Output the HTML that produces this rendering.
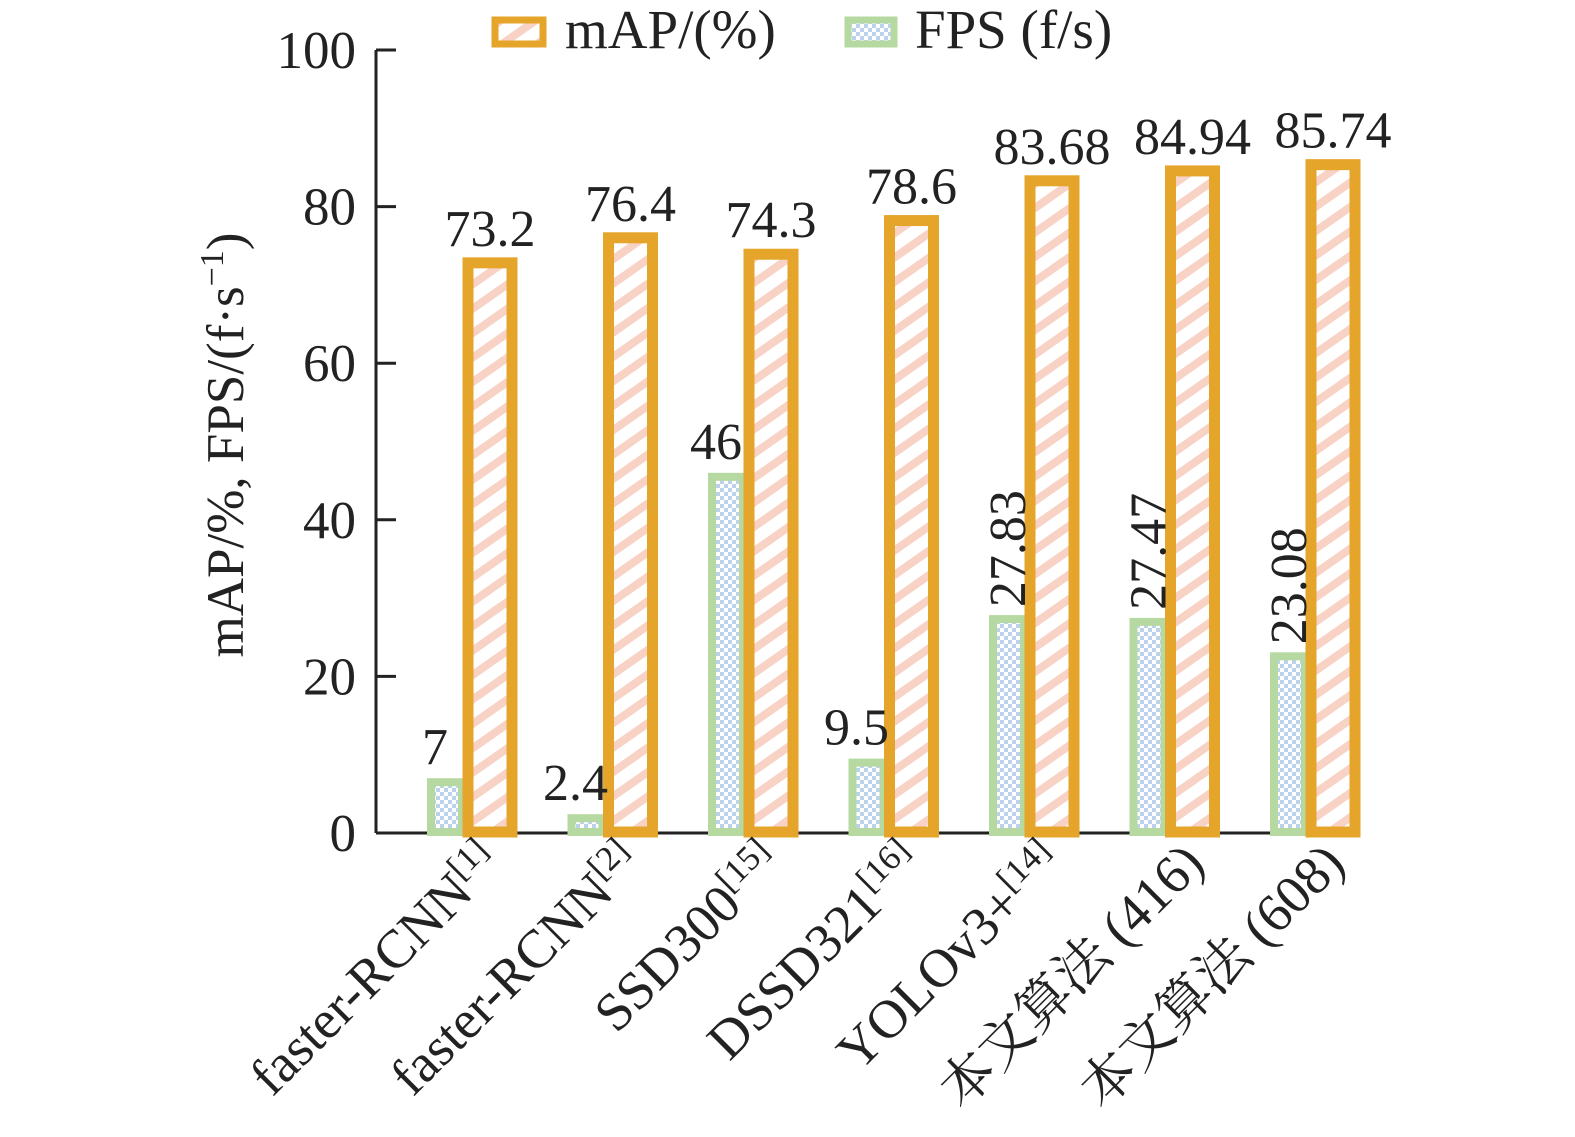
<!DOCTYPE html>
<html><head><meta charset="utf-8"><style>
body{margin:0;background:#fff}
svg{display:block}
text{font-family:"Liberation Serif","Noto Serif CJK SC","Noto Sans CJK SC",serif;fill:#222}
</style></head><body>
<svg id="chart" width="1575" height="1137" viewBox="0 0 1575 1137">
<defs>
<pattern id="stripe" patternUnits="userSpaceOnUse" width="20" height="20" patternTransform="rotate(-35)">
<rect width="20" height="20" fill="#fff"/><rect width="20" height="8" fill="#f8d2c4"/>
</pattern>
<pattern id="check" patternUnits="userSpaceOnUse" width="8" height="8">
<rect width="8" height="8" fill="#fff"/><rect width="4" height="4" fill="#bcd2ec"/><rect x="4" y="4" width="4" height="4" fill="#bcd2ec"/>
</pattern>
</defs>
<g id="axes"></g>
<g id="bars"></g>
<g id="legend">
<rect x="495" y="20" width="48" height="24" fill="url(#stripe)" stroke="#e5a52a" stroke-width="7"/>
<text x="565" y="48" font-size="55">mAP/(%)</text>
<rect x="848" y="20" width="46" height="24" fill="url(#check)" stroke="#b6d9a2" stroke-width="7"/>
<text x="915" y="48" font-size="55">FPS (f/s)</text>
</g>
<text transform="translate(243,445) rotate(-90)" text-anchor="middle" font-size="53">mAP/%, FPS/(f·s<tspan dy="-20" font-size="34">−1</tspan><tspan dy="20">)</tspan></text>
</svg>
<script>
const categories=["faster-RCNN","faster-RCNN","SSD300","DSSD321","YOLOv3+","本文算法 (416)","本文算法 (608)"];
const refs=["[1]","[2]","[15]","[16]","[14]","",""];
const mapValues=[73.2,76.4,74.3,78.6,83.68,84.94,85.74];
const fpsValues=[7,2.4,46,9.5,27.83,27.47,23.08];
const mapLabels=["73.2","76.4","74.3","78.6","83.68","84.94","85.74"];
const fpsLabels=["7","2.4","46","9.5","27.83","27.47","23.08"];
const yTicks=[0,20,40,60,80,100];
const NS="http://www.w3.org/2000/svg";
const y0=833,yTop=50,xAxis=376,xEnd=1356;
const y=v=>y0-(v/100)*(y0-yTop);
const groupX=i=>462+i*140.5;
function el(tag,attrs,parent){const e=document.createElementNS(NS,tag);for(const k in attrs)e.setAttribute(k,attrs[k]);parent.appendChild(e);return e;}
const axes=document.getElementById('axes'),bars=document.getElementById('bars');
let a=el('line',{x1:xAxis,y1:y0,x2:xEnd,y2:y0,stroke:'#222','stroke-width':3},axes);


a=el('line',{x1:xAxis,y1:y(100),x2:xAxis,y2:y0,stroke:'#222','stroke-width':3},axes);


yTicks.forEach(t=>{
  const l=el('line',{x1:xAxis,y1:y(t),x2:xAxis+20,y2:y(t),stroke:'#222','stroke-width':3},axes);
  
  
  const tx=el('text',{x:356,y:y(t)+18,'text-anchor':'end','font-size':53},axes);
  tx.textContent=t;
  
  
});
categories.forEach((c,i)=>{
  const mx=groupX(i),fx=mx-35;
  const fb=el('rect',{x:fx+4,y:y(fpsValues[i])+4,width:31,height:y0-y(fpsValues[i])-5,fill:'url(#check)',stroke:'#b6d9a2','stroke-width':8},bars);
  
  
  const mb=el('rect',{x:mx+6,y:y(mapValues[i])+3,width:44,height:y0-y(mapValues[i])-4,fill:'url(#stripe)',stroke:'#e5a52a','stroke-width':11},bars);
  
  
  const ml=el('text',{x:mx+28,y:y(mapValues[i])-14,'text-anchor':'middle','font-size':52},bars);
  ml.textContent=mapLabels[i];
  
  
  let fl;
  if(fpsValues[i]>20 && i!==2){
    fl=el('text',{transform:`translate(${fx+36},${y(fpsValues[i])-8}) rotate(-90)`,'font-size':52},bars);
  } else {
    fl=el('text',{x:fx+8,y:y(fpsValues[i])-14,'text-anchor':'middle','font-size':52},bars);
  }
  fl.textContent=fpsLabels[i];
  
  
  const cl=el('text',{transform:`translate(${mx+42},${866}) rotate(-45)`,'text-anchor':'end','font-size':54},bars);
  cl.textContent=c;
  if(refs[i]){const s=el('tspan',{dy:-20,'font-size':35},cl);s.textContent=refs[i];}
  
  
});
</script>
</body></html>
